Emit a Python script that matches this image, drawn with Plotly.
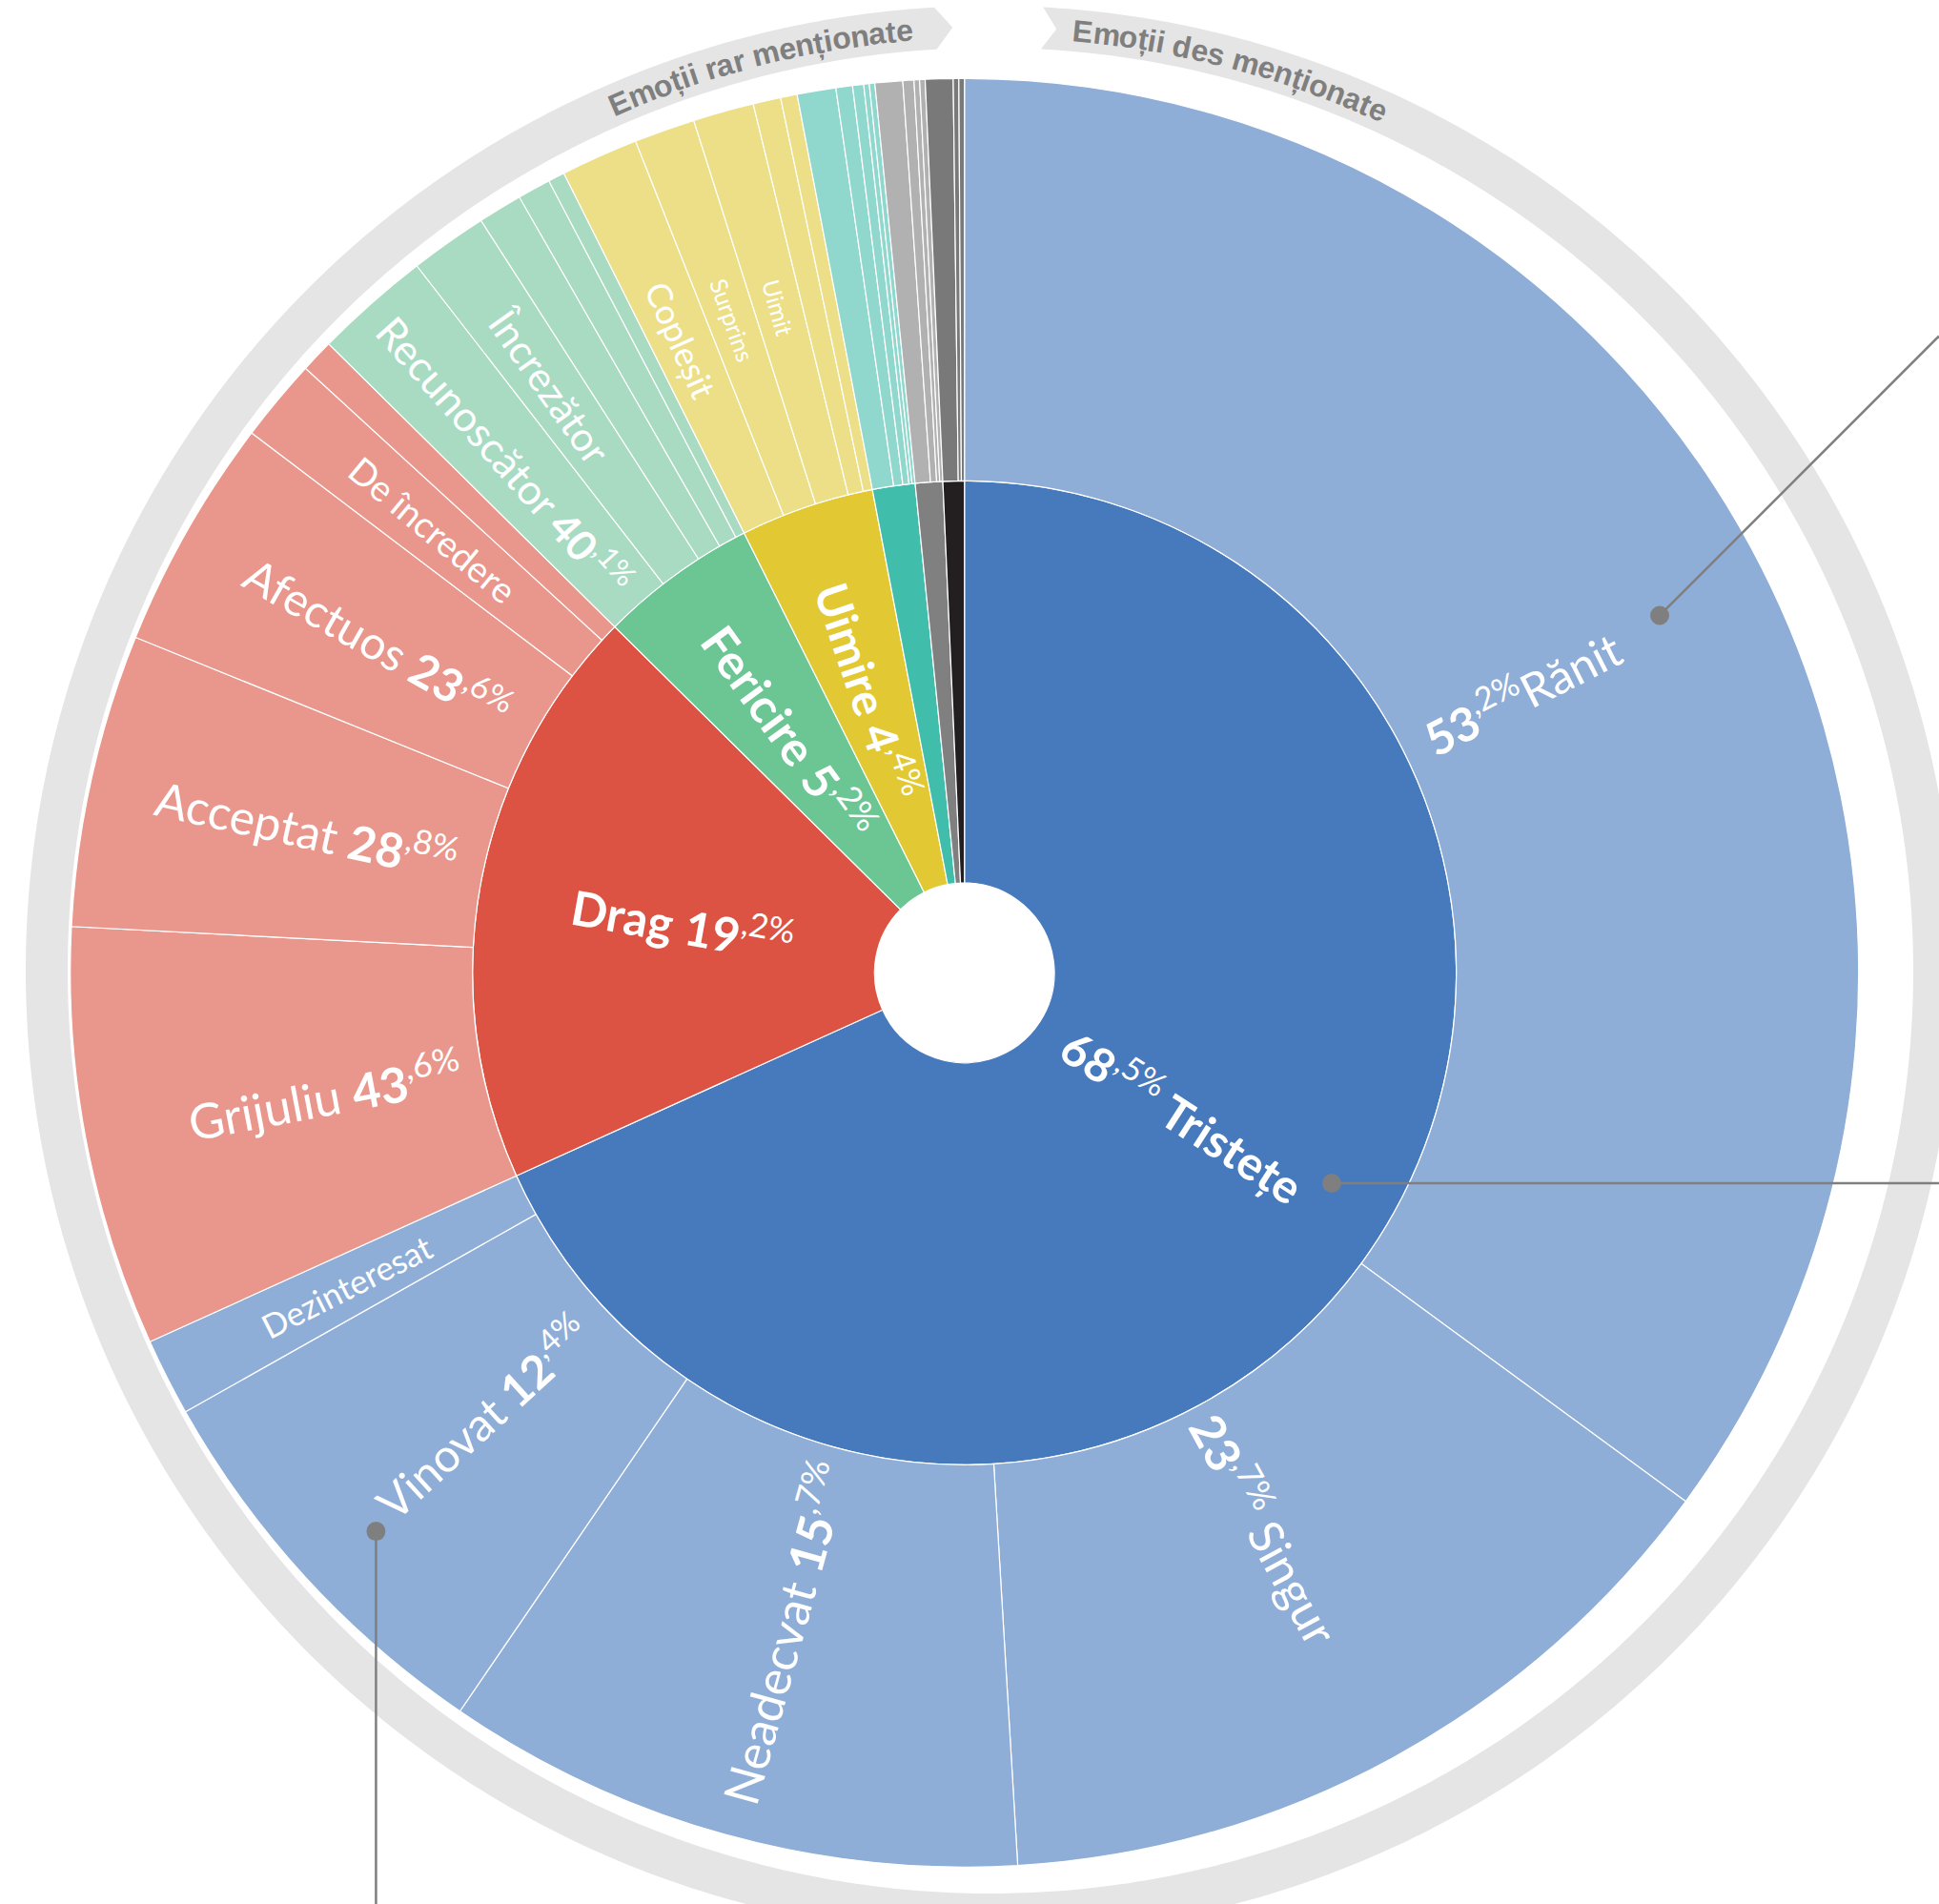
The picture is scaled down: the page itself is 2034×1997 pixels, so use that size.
import math
import plotly.graph_objects as go

# ------------------------------------------------------------------ data
parents = ["Tristețe", "Drag", "Fericire", "Uimire", "Frică", "Dezgust", "Furie"]
parent_pct = [68.5, 19.2, 5.2, 4.4, None, None, None]

child_parent = (["Tristețe"] * 5 + ["Drag"] * 5 + ["Fericire"] * 5 + ["Uimire"] * 5
                + ["Frică"] * 5 + ["Dezgust"] * 4 + ["Furie"] * 3)
child_names = ["Rănit", "Singur", "Neadecvat", "Vinovat", "Dezinteresat",
               "Grijuliu", "Acceptat", "Afectuos", "De încredere", "",
               "Recunoscător", "Încrezător", "", "", "",
               "Copleșit", "Surprins", "Uimit", "", "",
               "", "", "", "", "",
               "", "", "", "",
               "", "", ""]
# share of all mentions (%), sets the angular size of each outer slice
child_share = [35.1, 14.0, 10.5, 7.3, 1.4,
               7.6, 5.3, 4.2, 1.5, 0.6,
               2.1, 1.4, 0.8, 0.6, 0.3,
               1.4, 1.1, 1.1, 0.5, 0.3,
               0.7, 0.3, 0.2, 0.1, 0.1,
               0.5, 0.2, 0.1, 0.1,
               0.5, 0.1, 0.1]
# printed percentage (share within the parent emotion)
child_pct = [53.2, 23.7, 15.7, 12.4, None,
             43.6, 28.8, 23.6, None, None,
             40.1, None, None, None, None,
             None, None, None, None, None,
             None, None, None, None, None,
             None, None, None, None,
             None, None, None]

band_titles = ["Emoții rar menționate", "Emoții des menționate"]

# ------------------------------------------------------------------ style
W, H = 2034, 1997
CX, CY = 1011.7, 1020.3          # pixel centre of the sunburst
S = min(CX, W - CX, CY, H - CY)  # polar radius in px (radial axis in px)
R_HOLE, R_MID, R_OUT = 94.3, 516.0, 938.0

parent_colors = {"Tristețe": "#4779bd", "Drag": "#dc5343", "Fericire": "#6cc693",
                 "Uimire": "#e2c933", "Frică": "#41bdac", "Dezgust": "#808080",
                 "Furie": "#231f20"}
child_colors = {"Tristețe": "#8faed7", "Drag": "#e9978c", "Fericire": "#a8dbc2",
                "Uimire": "#ecdf88", "Frică": "#90d8cd", "Dezgust": "#b1b1b1",
                "Furie": "#7a797a"}

# label centre radius (px) and font size
label_pos = {
    "Tristețe": (274, 49), "Drag": (300, 50), "Fericire": (312, 50), "Uimire": (312, 48),
    "Rănit": (655, 49), "Singur": (663, 50), "Neadecvat": (718, 51), "Vinovat": (688, 48),
    "Dezinteresat": (727, 35), "Grijuliu": (683, 51), "Acceptat": (706, 50),
    "Afectuos": (707, 48), "De încredere": (726, 38), "Recunoscător": (726, 44),
    "Încrezător": (754, 42), "Copleșit": (727, 36), "Surprins": (727, 25), "Uimit": (724, 25),
}
tight = {"Rănit"}
LABEL_FONT = "Lato, Noto Sans, sans-serif"

# gray framing band (own centre)
GCX, GCY = 1039.0, 1018.0
B_IN, B_OUT = 968.0, 1012.0
B_MID = (B_IN + B_OUT) / 2
BAND_START, BAND_END = 3.13, 356.66
GRAY = "#e5e5e5"
TITLE_GRAY = "#7f7f7f"

# leader dots: (angle, radius)
leaders = [(62.8, 820, "diag"), (119.8, 444, "right"), (226.5, 851, "down")]

# ------------------------------------------------------------------ geometry
total = sum(child_share)
deg = 360.0 / total

c_width = [v * deg for v in child_share]
c_mid, acc = [], 0.0
for w in c_width:
    c_mid.append(acc + w / 2)
    acc += w

p_width = [sum(w for w, p in zip(c_width, child_parent) if p == name) for name in parents]
p_mid, acc = [], 0.0
for w in p_width:
    p_mid.append(acc + w / 2)
    acc += w


def px(theta, r, cx=CX, cy=CY):
    t = math.radians(theta)
    return cx + r * math.sin(t), cy - r * math.cos(t)


def paper(x, y):
    return x / W, 1 - y / H


fig = go.Figure()
fig.add_trace(go.Barpolar(
    theta=p_mid, width=p_width, base=[R_HOLE] * len(parents),
    r=[R_MID - R_HOLE] * len(parents),
    marker=dict(color=[parent_colors[p] for p in parents], line=dict(color="white", width=1.2)),
    hovertext=parents, hoverinfo="text", showlegend=False))
fig.add_trace(go.Barpolar(
    theta=c_mid, width=c_width, base=[R_MID] * len(child_share),
    r=[R_OUT - R_MID] * len(child_share),
    marker=dict(color=[child_colors[p] for p in child_parent], line=dict(color="white", width=1.2)),
    hovertext=[n or p for n, p in zip(child_names, child_parent)], hoverinfo="text",
    showlegend=False))

annotations = []
shapes = []


def pct_html(p):
    a, b = f"{p:.1f}".split(".")
    return f"<b>{a}</b><sup>,{b}%</sup>"


def add_label(name, pct, theta, bold_name):
    r, fs = label_pos[name]
    nm = f"<b>{name}</b>" if bold_name else name
    right = theta < 180
    if pct is None:
        txt = nm
    elif right:
        txt = pct_html(pct) + ("" if name in tight else " ") + nm
    else:
        txt = nm + " " + pct_html(pct)
    ang = theta - 90 if right else theta - 270
    x, y = paper(*px(theta, r))
    annotations.append(dict(text=txt, x=x, y=y, xref="paper", yref="paper", showarrow=False,
                            xanchor="center", yanchor="middle", textangle=ang,
                            font=dict(family=LABEL_FONT, size=fs, color="white")))


for name, pct, th in zip(parents, parent_pct, p_mid):
    if name in label_pos:
        add_label(name, pct, th, True)
for name, pct, th in zip(child_names, child_pct, c_mid):
    if name in label_pos:
        add_label(name, pct, th, False)

# ---- gray band with arrow / notch
pts = []
steps = int((BAND_END - BAND_START) / 0.5) + 1
for i in range(steps + 1):
    ang = BAND_START + (BAND_END - BAND_START) * i / steps
    pts.append(px(ang, B_OUT, GCX, GCY))
pts.append(px(BAND_END + 1.04, B_MID, GCX, GCY))
for i in range(steps, -1, -1):
    ang = BAND_START + (BAND_END - BAND_START) * i / steps
    pts.append(px(ang, B_IN, GCX, GCY))
pts.append(px(BAND_START + 0.88, B_MID, GCX, GCY))
path = "M " + " L ".join(f"{paper(x, y)[0]:.5f},{paper(x, y)[1]:.5f}" for x, y in pts) + " Z"
shapes.append(dict(type="path", path=path, xref="paper", yref="paper",
                   fillcolor=GRAY, line=dict(width=0), layer="below"))

# ---- arc titles
AW = {"E": .667, "m": .889, "o": .611, "ț": .333, "i": .278, " ": .278, "r": .389,
      "a": .556, "n": .611, "t": .333, "e": .556, "d": .611, "s": .556}
TFS = 32


def arc_text(text, start_deg):
    pos = 0.0
    for ch in text:
        w = AW.get(ch, .556) * TFS
        if ch != " ":
            ang = start_deg + math.degrees((pos + w / 2) / B_MID)
            x, y = paper(*px(ang, B_MID, GCX, GCY))
            annotations.append(dict(text=f"<b>{ch}</b>", x=x, y=y, xref="paper", yref="paper",
                                    showarrow=False, xanchor="center", yanchor="middle",
                                    textangle=ang,
                                    font=dict(family="Liberation Sans, Arial", size=TFS,
                                              color=TITLE_GRAY)))
        pos += w
    return pos


rar_len = sum(AW.get(c, .556) for c in band_titles[0]) * TFS
arc_text(band_titles[0], -4.72 - math.degrees(rar_len / B_MID))
arc_text(band_titles[1], 5.0)

# ---- leader lines
LC = "#7f7f7f"
for ang, r, kind in leaders:
    x0, y0 = px(ang, r)
    if kind == "right":
        x1, y1 = W, y0
    elif kind == "down":
        x1, y1 = x0, H
    else:
        d = min(W - x0, y0)
        x1, y1 = x0 + d, y0 - d
    p0, p1 = paper(x0, y0), paper(x1, y1)
    shapes.append(dict(type="line", x0=p0[0], y0=p0[1], x1=p1[0], y1=p1[1],
                       xref="paper", yref="paper", line=dict(color=LC, width=2.5), layer="above"))
    rd = 10
    shapes.append(dict(type="circle", xref="paper", yref="paper",
                       x0=(x0 - rd) / W, x1=(x0 + rd) / W, y0=1 - (y0 + rd) / H, y1=1 - (y0 - rd) / H,
                       fillcolor=LC, line=dict(width=0), layer="above"))

fig.update_layout(
    width=W, height=H, margin=dict(l=0, r=0, t=0, b=0),
    paper_bgcolor="white", plot_bgcolor="white", showlegend=False,
    polar=dict(
        domain=dict(x=[(CX - S) / W, (CX + S) / W], y=[(H - CY - S) / H, (H - CY + S) / H]),
        bgcolor="rgba(0,0,0,0)", bargap=0, hole=0,
        radialaxis=dict(visible=False, range=[0, S]),
        angularaxis=dict(visible=False, rotation=90, direction="clockwise", thetaunit="degrees"),
    ),
    annotations=annotations, shapes=shapes,
)

fig.write_html("out.html", config={"displayModeBar": False},
               post_script="document.body.style.margin='0';")
